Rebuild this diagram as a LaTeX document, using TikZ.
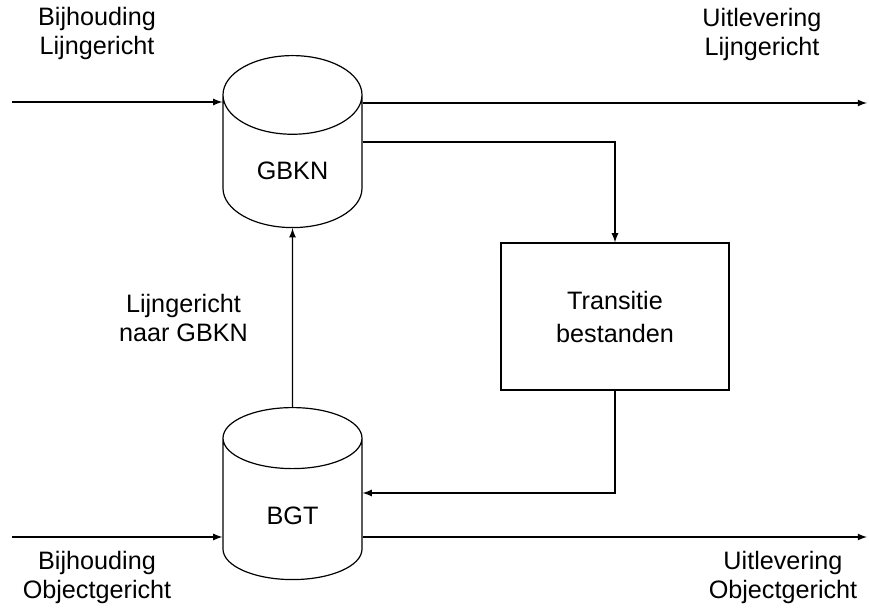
\documentclass[tikz,border=0pt]{standalone}
\usepackage{fontspec}
\setmainfont{Liberation Sans}
\usetikzlibrary{shapes.geometric, calc, arrows, positioning}

\tikzset{
  store/.style={draw, shape=cylinder, shape border rotate=90, aspect=0.9,
    minimum width=69.5pt, minimum height=86pt, inner sep=4pt, anchor=north},
  procbox/.style={draw, rectangle, minimum width=114pt, minimum height=73.5pt,
    align=center, font=\fontsize{12.6}{16.5}\selectfont},
  flowtext/.style={align=center, inner sep=0pt}
}

\begin{document}
\begin{tikzpicture}[>=latex, x=0.5pt, y=-0.5pt, line width=0.6pt,
    font=\fontsize{12.6}{14.5}\selectfont]
    \useasboundingbox (0,0) rectangle (869,608);

    % stores
    \node[store] (gbkn) at (292.5,55) {GBKN};
    \node[store] (bgt) at (292.5,407) {BGT};
    \node[procbox] (trans) at (615,316.5) {Transitie\\ bestanden};

    % free ends and bends
    \path (12,102) coordinate (in1);
    \path (867,103) coordinate (out1);
    \path (12,537) coordinate (in2);
    \path (867,537) coordinate (out2);
    \path (615,142) coordinate (split);
    \path (615,493) coordinate (back);

    \draw[->] (in1) -- (in1 -| gbkn.west);
    \draw[->] (out1 -| gbkn.east) -- (out1);
    \draw[->] (split -| gbkn.east) -- (split) -- (trans.north);
    \draw[->] (trans.south) -- (back) -- (back -| bgt.east);
    \draw[->] (bgt.north) -- (gbkn.south);
    \draw[->] (in2) -- (in2 -| bgt.west);
    \draw[->] (out2 -| bgt.east) -- (out2);

    % labels
    \node[flowtext] (bij-lijn) at (97,33) {Bijhouding\\ Lijngericht};
    \node[flowtext] (uit-lijn) at (762,34) {Uitlevering\\ Lijngericht};
    \node[flowtext] (bij-obj) at (97,577) {Bijhouding\\ Objectgericht};
    \node[flowtext] (uit-obj) at (783,577) {Uitlevering\\ Objectgericht};
    \node[flowtext, left = 22pt of $(bgt.north)!0.5!(gbkn.south)$] (naar) {Lijngericht\\ naar GBKN};
  \end{tikzpicture}
\end{document}
